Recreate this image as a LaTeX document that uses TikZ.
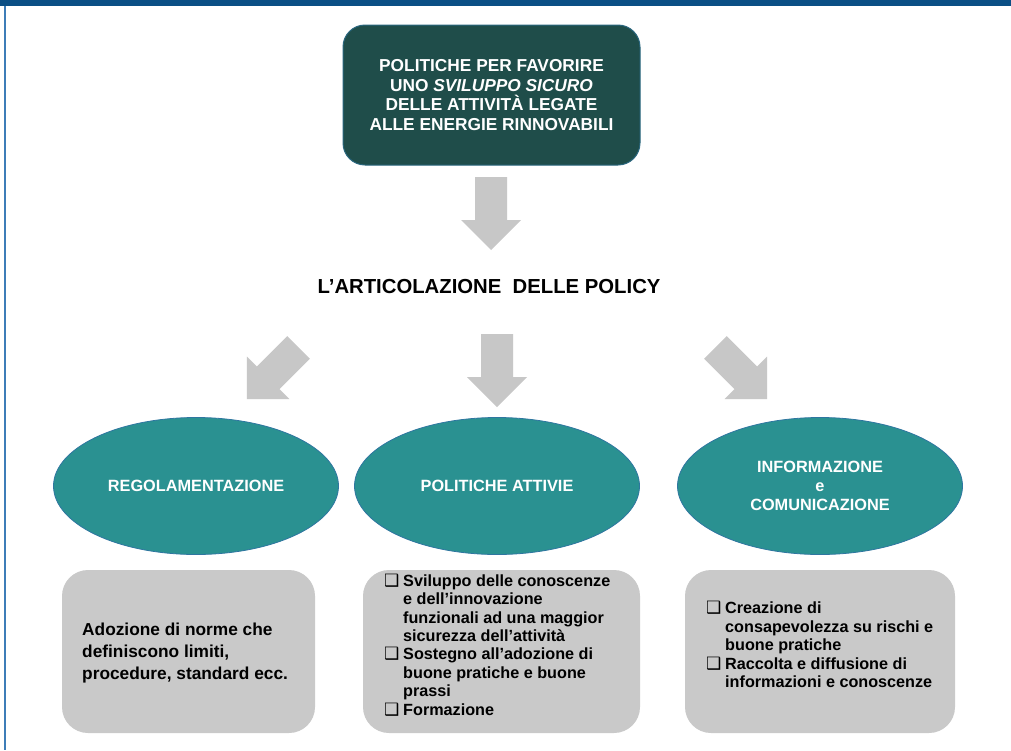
\documentclass[tikz,border=0pt]{standalone}
\usepackage{fontspec}
\setmainfont{Liberation Sans}
\newfontfamily\dejavu{DejaVu Sans}
\usetikzlibrary{shapes.geometric}
\definecolor{topblue}{HTML}{0B4F85}
\definecolor{leftblue}{HTML}{3E7DB8}
\definecolor{darkteal}{HTML}{1F4D4A}
\definecolor{teal}{HTML}{2A9191}
\definecolor{tealedge}{HTML}{2F76A0}
\definecolor{boxgray}{HTML}{C9C9C9}
\definecolor{arrowgray}{HTML}{C7C7C7}
\newcommand{\bul}{\makebox[19pt][l]{\dejavu\fontsize{17}{17}\selectfont ❑}}
\begin{document}
\begin{tikzpicture}[x=1pt,y=-1pt,
  topbox/.style={rectangle, rounded corners=22pt, fill=darkteal, draw=tealedge!60!darkteal, line width=1pt,
    minimum width=297pt, minimum height=140pt, text=white, font=\bfseries\fontsize{17.3}{19.4}\selectfont, align=center},
  ell/.style={ellipse, fill=teal, draw=tealedge, line width=0.8pt, minimum width=285pt, minimum height=137pt,
    text=white, font=\bfseries\fontsize{16.3}{19}\selectfont, align=center, inner sep=0pt},
  graybox/.style={rectangle, rounded corners=26pt, fill=boxgray, minimum height=163pt},
  boxtext/.style={inner sep=0pt, align=left, font=\bfseries\fontsize{16.2}{18.4}\selectfont},
  blockarr/.pic={\fill[arrowgray] (-16,0) -- (16,0) -- (16,43) -- (30,43) -- (0,73) -- (-30,43) -- (-16,43) -- cycle;}
]
\useasboundingbox (0,0) rectangle (1011,750);
\fill[white] (0,0) rectangle (1011,750);
% frame
\fill[topblue] (0,0) rectangle (1011,6);
\draw[leftblue, line width=1.5pt] (5,6) -- (5,750);

% top box
\node[topbox] (top) at (491.5,95) {POLITICHE PER FAVORIRE\\UNO \textit{SVILUPPO SICURO}\\DELLE ATTIVITÀ LEGATE\\ALLE ENERGIE RINNOVABILI};

% arrow top -> title
\coordinate (a0) at (491,177);
\pic at (a0) {blockarr};

% title
\node[font=\bfseries\fontsize{20.3}{22}\selectfont, inner sep=0pt] (title) at (489,287) {L’ARTICOLAZIONE\ \ DELLE POLICY};

% three arrows
\coordinate (a1) at (298.6,347.4);
\coordinate (a2) at (497,334);
\coordinate (a3) at (715.4,347.4);
\pic[rotate=-45] at (a1) {blockarr};
\pic at (a2) {blockarr};
\pic[rotate=45] at (a3) {blockarr};

% ellipses
\node[ell] (e1) at (196,486) {REGOLAMENTAZIONE};
\node[ell] (e2) at (497,486) {POLITICHE ATTIVIE};
\node[ell] (e3) at (820,486) {INFORMAZIONE\\e\\COMUNICAZIONE};

% gray boxes
\node[graybox, minimum width=253pt] (b1) at (188.5,651.5) {};
\node[graybox, minimum width=277pt] (b2) at (501.5,651.5) {};
\node[graybox, minimum width=270pt] (b3) at (820,651.5) {};

\node[boxtext, anchor=west, font=\bfseries\fontsize{17.3}{22}\selectfont] (t1) at (82,653) {Adozione di norme che\\definiscono limiti,\\procedure, standard ecc.};

\node[boxtext, anchor=west] (t2) at (384,647) {\begin{tabular}{@{}l@{}l@{}}
\bul & Sviluppo delle conoscenze\\
 & e dell’innovazione\\
 & funzionali ad una maggior\\
 & sicurezza dell’attività\\
\bul & Sostegno all’adozione di\\
 & buone pratiche e buone\\
 & prassi\\
\bul & Formazione
\end{tabular}};

\node[boxtext, anchor=west] (t3) at (706,647) {\begin{tabular}{@{}l@{}l@{}}
\bul & Creazione di\\
 & consapevolezza su rischi e\\
 & buone pratiche\\
\bul & Raccolta e diffusione di\\
 & informazioni e conoscenze
\end{tabular}};
\end{tikzpicture}
\end{document}
